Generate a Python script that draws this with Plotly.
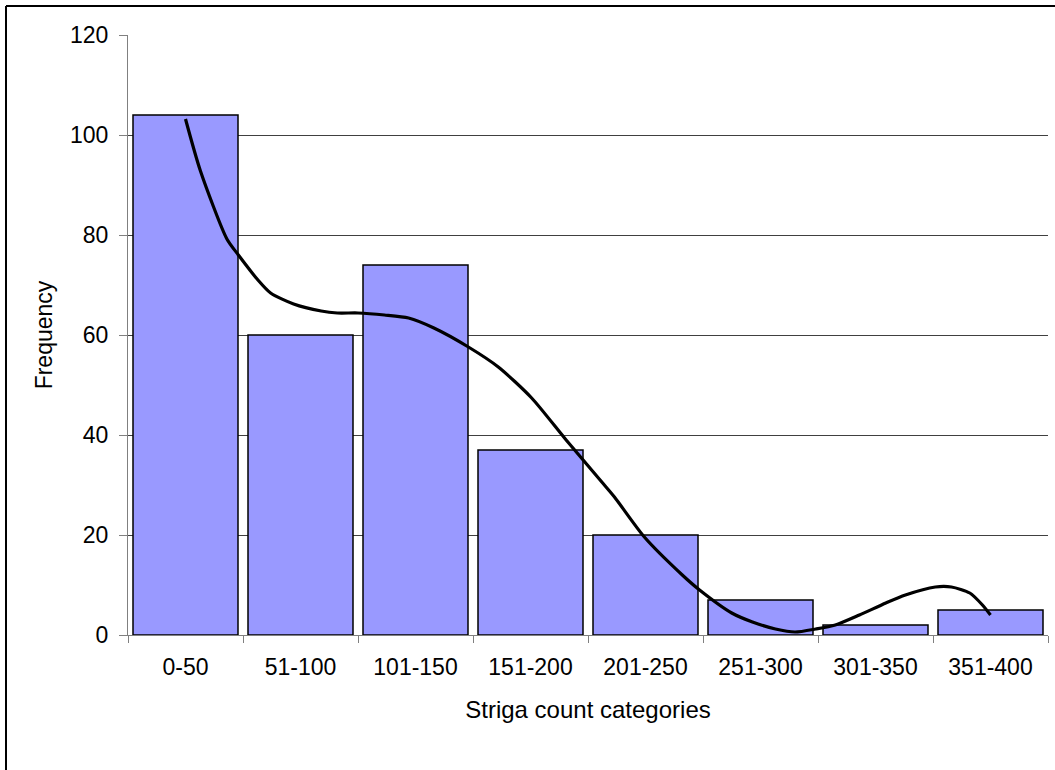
import plotly.graph_objects as go

categories = ["0-50", "51-100", "101-150", "151-200", "201-250", "251-300", "301-350", "351-400"]
frequency = [104, 60, 74, 37, 20, 7, 2, 5]

# Smoothed trend curve (x in category units, 0 = first bar centre)
curve_x = [0.0, 0.13, 0.36, 0.46, 0.63, 0.74, 0.94, 1.18, 1.32, 1.5, 1.73, 1.94, 2.16, 2.46,
           2.72, 3.01, 3.31, 3.62, 3.73, 3.99, 4.32, 4.47, 4.75, 4.93, 5.13, 5.3, 5.48, 5.65,
           5.86, 6.09, 6.26, 6.52, 6.66, 6.82, 6.93, 7.0]
curve_y = [103.2, 92.8, 79.2, 76.0, 71.0, 68.4, 66.2, 64.8, 64.4, 64.4, 64.0, 63.4, 61.4, 57.6,
           53.6, 47.4, 39.0, 30.6, 27.6, 19.6, 12.0, 9.0, 4.4, 2.6, 1.2, 0.6, 1.2, 2.0,
           4.0, 6.4, 8.0, 9.6, 9.6, 8.4, 6.0, 4.0]

y_ticks = [0, 20, 40, 60, 80, 100, 120]

W, H = 1055, 770
ML, MR, MT, MB = 128, 7, 35, 135
PW, PH = W - ML - MR, H - MT - MB
FONT = "Liberation Sans, Arial, sans-serif"
FS = 23

fig = go.Figure()
fig.add_trace(go.Bar(
    x=categories, y=frequency,
    marker=dict(color="#9999FF", line=dict(color="#000000", width=1.5)),
    showlegend=False, hoverinfo="x+y",
))
fig.add_trace(go.Scatter(
    x=curve_x, y=curve_y, xaxis="x2", yaxis="y",
    mode="lines", line=dict(color="#000000", width=3.2, shape="spline", smoothing=0.7),
    showlegend=False,
))

# outer chart frame (left and top edges visible; right/bottom beyond image)
px = lambda p: (p - ML) / PW
py = lambda p: 1 - (p - MT) / PH
fig.add_shape(type="line", xref="paper", yref="paper",
              x0=px(6), x1=px(1080), y0=py(6), y1=py(6),
              line=dict(color="#000000", width=2))
fig.add_shape(type="line", xref="paper", yref="paper",
              x0=px(6), x1=px(6), y0=py(6), y1=py(800),
              line=dict(color="#000000", width=2))

fig.update_layout(
    width=W, height=H,
    margin=dict(l=ML, r=MR, t=MT, b=MB, pad=0),
    paper_bgcolor="white", plot_bgcolor="white",
    bargap=0.087,
    font=dict(family=FONT, size=FS, color="#000000"),
    xaxis=dict(
        type="category", range=[-0.5, 7.5],
        showline=True, linecolor="#808080", linewidth=1,
        ticks="outside", tickson="boundaries", ticklen=7, tickcolor="#808080", tickwidth=1,
        showgrid=False, zeroline=False,
        tickfont=dict(family=FONT, size=FS, color="#000000"),
        ticklabelstandoff=11,
        title=dict(text="Striga count categories", font=dict(family=FONT, size=24), standoff=22),
    ),
    xaxis2=dict(
        overlaying="x", range=[-0.5, 7.5], visible=False, type="linear",
    ),
    yaxis=dict(
        range=[0, 120], tickvals=y_ticks,
        showline=True, linecolor="#808080", linewidth=1,
        ticks="outside", ticklen=8, tickcolor="#808080", tickwidth=1,
        showgrid=True, gridcolor="#404040", gridwidth=1,
        zeroline=False,
        tickfont=dict(family=FONT, size=FS, color="#000000"),
        ticklabelstandoff=6,
        title=dict(text="Frequency", font=dict(family=FONT, size=FS), standoff=10),
    ),
)

fig.write_html("out.html")
